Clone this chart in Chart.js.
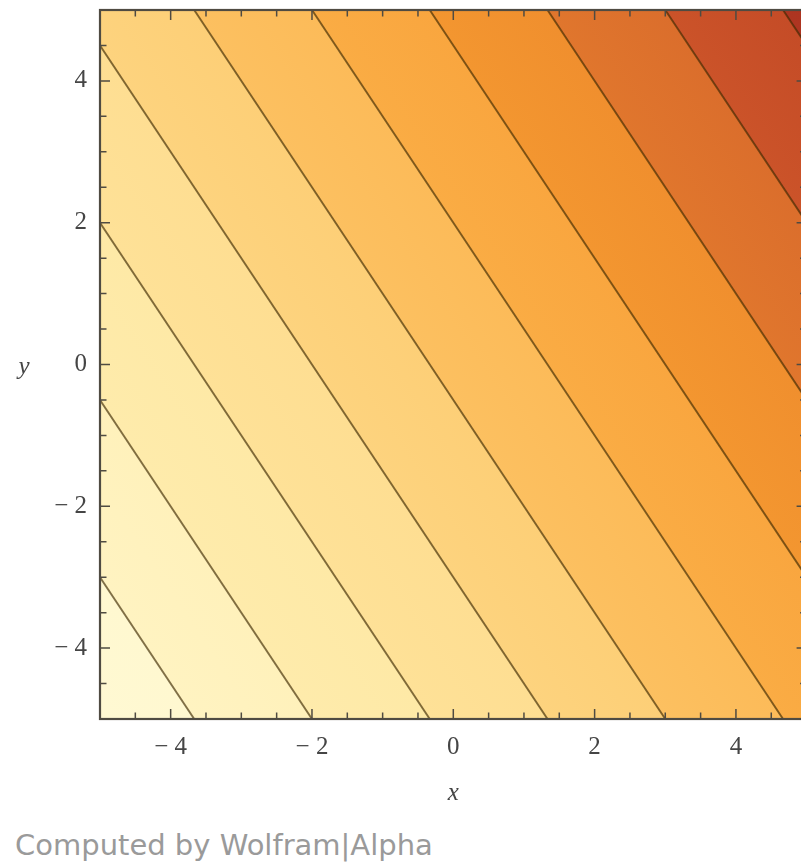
<!DOCTYPE html>
<html>
<head>
<meta charset="utf-8">
<script src="https://cdn.jsdelivr.net/npm/chart.js@4.4.1/dist/chart.umd.min.js"></script>
<style>
  html, body { margin: 0; padding: 0; background: #ffffff; overflow: hidden; width: 801px; height: 865px; }
  #wrap { position: absolute; left: 0; top: 0; width: 812px; height: 820px; }
  #credit {
    position: absolute; left: 15px; top: 831px;
    font-family: "DejaVu Sans", sans-serif; font-size: 29px; line-height: 28px;
    color: #9a9a9a; white-space: nowrap;
  }
</style>
</head>
<body>
<div id="wrap"><canvas id="plot" width="812" height="820"></canvas></div>
<div id="credit">Computed by Wolfram|Alpha</div>
<script>
// Plot window
const xRange = [-5, 5];
const yRange = [-5, 5];

// Contour levels and where each contour line sits at the left (x = -5)
// and right (x = 5) sides of the window (lines run past the frame and are clipped)
const contourLevels   = [-20, -15, -10, -5, 0, 5, 10, 15, 20, 25];
const contourYAtXMin  = [-3, -0.5, 2, 4.5, 7, 9.5, 12, 14.5, 17, 19.5];
const contourYAtXMax  = [-18, -15.5, -13, -10.5, -8, -5.5, -3, -0.5, 2, 4.5];

// Shading of the regions between contours, lowest region first
const bandColors = [
  '#fff9d3', '#fff2be', '#feeaa8', '#fee095', '#fdd17b', '#fcbe5c',
  '#faa941', '#f2932e', '#de722d', '#c84f28', '#ab3220'
];

// Frame ticks
const majorTicks = [-4, -2, 0, 2, 4];
const minorTicks = [-4.5, -3.5, -3, -2.5, -1.5, -1, -0.5, 0.5, 1, 1.5, 2.5, 3, 3.5, 4.5];

const labelFont = { family: '"Liberation Serif", "DejaVu Serif", serif', size: 25 };
const inkColor = '#454545';
const frameColor = '#4f4b42';
const contourStroke = 'rgba(60, 40, 0, 0.65)';

const fmtTick = v => (v < 0 ? '\u2212 ' + Math.abs(v) : String(v));

// --- colour helpers -------------------------------------------------------
function hexToRgb(h) {
  const n = parseInt(h.slice(1), 16);
  return [(n >> 16) & 255, (n >> 8) & 255, n & 255];
}
function mix(a, b, t) {
  const p = hexToRgb(a), q = hexToRgb(b);
  const c = p.map((v, k) => Math.round(v + (q[k] - v) * t));
  return 'rgb(' + c.join(',') + ')';
}

// Pixel geometry of contour line i: start point and unit normal pointing uphill
function contourGeometry(chart, i) {
  const xs = chart.scales.x, ys = chart.scales.y;
  const x0 = xs.getPixelForValue(xRange[0]), y0 = ys.getPixelForValue(contourYAtXMin[i]);
  const x1 = xs.getPixelForValue(xRange[1]), y1 = ys.getPixelForValue(contourYAtXMax[i]);
  const len = Math.hypot(x1 - x0, y1 - y0);
  const dx = (x1 - x0) / len, dy = (y1 - y0) / len;
  return { x: x0, y: y0, nx: dy, ny: -dx };
}
function bandWidth(chart, i) {
  const g = contourGeometry(chart, i);
  const j = i + 1 < contourLevels.length ? i + 1 : i - 1;
  const h = contourGeometry(chart, j);
  return Math.abs((h.x - g.x) * g.nx + (h.y - g.y) * g.ny);
}
// Slight shading across a band: lighter at its lower contour, darker at its upper one
function bandGradient(chart, band, fromLine, towardUp) {
  const g = contourGeometry(chart, fromLine);
  const w = bandWidth(chart, fromLine) * (towardUp ? 1 : -1);
  const grad = chart.ctx.createLinearGradient(g.x, g.y, g.x + g.nx * w, g.y + g.ny * w);
  const c = bandColors[band];
  const lower = bandColors[Math.max(band - 1, 0)];
  const upper = bandColors[Math.min(band + 1, bandColors.length - 1)];
  const s = 0.12;
  if (towardUp) {
    grad.addColorStop(0, mix(c, lower, s));
    grad.addColorStop(1, mix(c, upper, s));
  } else {
    grad.addColorStop(0, mix(c, upper, s));
    grad.addColorStop(1, mix(c, lower, s));
  }
  return grad;
}

// One dataset per contour line; each fills the region above it with the next band's colour.
// Highest level first so that it is drawn on top.
const datasets = [];
for (let i = contourLevels.length - 1; i >= 0; i--) {
  datasets.push({
    label: 'f = ' + contourLevels[i],
    data: [
      { x: xRange[0], y: contourYAtXMin[i] },
      { x: xRange[1], y: contourYAtXMax[i] }
    ],
    showLine: true,
    fill: 'end',
    backgroundColor: ctx => (ctx.chart.chartArea ? bandGradient(ctx.chart, i + 1, i, true) : bandColors[i + 1]),
    borderColor: contourStroke,
    borderWidth: 1.9,
    pointRadius: 0,
    pointHoverRadius: 0,
    tension: 0
  });
}

const framePlugin = {
  id: 'frameTicks',
  beforeDatasetsDraw(chart) {
    const { ctx, chartArea: a } = chart;
    ctx.save();
    ctx.fillStyle = bandGradient(chart, 0, 0, false);
    ctx.fillRect(a.left, a.top, a.right - a.left, a.bottom - a.top);
    ctx.restore();
  },
  afterDraw(chart) {
    const { ctx, chartArea: a, scales } = chart;
    const xs = scales.x, ys = scales.y;
    ctx.save();
    ctx.strokeStyle = frameColor;
    ctx.lineWidth = 1.5;
    const drawTicks = (vals, len) => {
      vals.forEach(v => {
        const px = xs.getPixelForValue(v);
        const py = ys.getPixelForValue(v);
        ctx.beginPath();
        ctx.moveTo(px, a.bottom); ctx.lineTo(px, a.bottom - len);
        ctx.moveTo(px, a.top); ctx.lineTo(px, a.top + len);
        ctx.moveTo(a.left, py); ctx.lineTo(a.left + len, py);
        ctx.moveTo(a.right, py); ctx.lineTo(a.right - len, py);
        ctx.stroke();
      });
    };
    drawTicks(majorTicks, 10);
    drawTicks(minorTicks, 6.5);
    ctx.lineWidth = 2.2;
    ctx.strokeRect(a.left, a.top, a.right - a.left, a.bottom - a.top);

    ctx.fillStyle = inkColor;
    ctx.font = 'italic 25px ' + labelFont.family;
    ctx.textAlign = 'center';
    ctx.textBaseline = 'alphabetic';
    ctx.fillText('x', xs.getPixelForValue(0), 800);
    ctx.fillText('y', 24, 374);
    ctx.restore();
  }
};

new Chart(document.getElementById('plot'), {
  type: 'scatter',
  data: { datasets },
  options: {
    responsive: false,
    animation: false,
    events: [],
    layout: { padding: { left: 0, top: 10, right: 5.4, bottom: 0 } },
    plugins: { legend: { display: false }, tooltip: { enabled: false } },
    scales: {
      x: {
        type: 'linear', position: 'bottom',
        min: xRange[0], max: xRange[1],
        grid: { display: false, drawTicks: false },
        border: { display: false },
        afterBuildTicks: s => { s.ticks = majorTicks.map(v => ({ value: v })); },
        afterFit: s => { s.height = 101; s.paddingLeft = 0; s.paddingRight = 0; },
        ticks: {
          callback: fmtTick, font: labelFont, color: inkColor,
          padding: 13, maxRotation: 0, autoSkip: false
        }
      },
      y: {
        type: 'linear', position: 'left',
        min: yRange[0], max: yRange[1],
        grid: { display: false, drawTicks: false },
        border: { display: false },
        afterBuildTicks: s => { s.ticks = majorTicks.map(v => ({ value: v })); },
        afterFit: s => { s.width = 100; s.paddingTop = 0; s.paddingBottom = 0; },
        ticks: {
          callback: fmtTick, font: labelFont, color: inkColor,
          padding: 13, autoSkip: false
        }
      }
    }
  },
  plugins: [framePlugin]
});
</script>
</body>
</html>
